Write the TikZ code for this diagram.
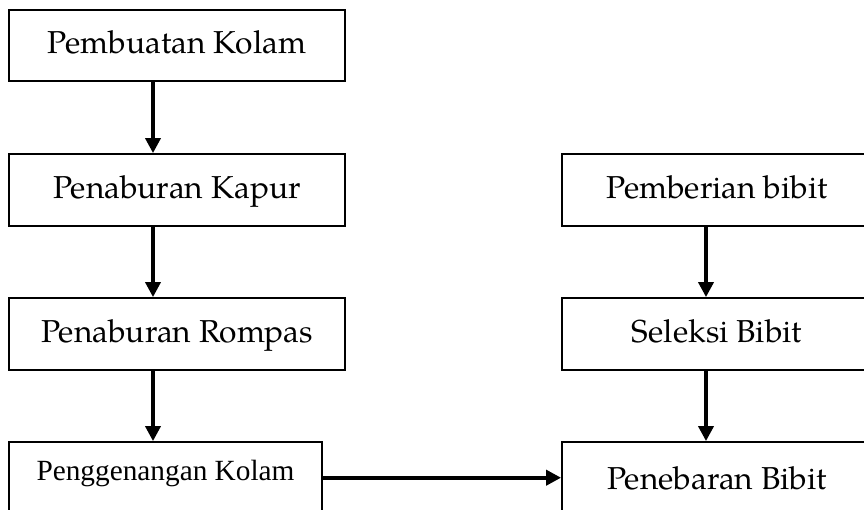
\documentclass[tikz,border=0pt]{standalone}
\usepackage{fontspec}
\setmainfont{TeX Gyre Pagella}
\newfontfamily\timesfam{Liberation Serif}
\usetikzlibrary{arrows.meta,calc}
\newcommand\palfont{\fontsize{31.7}{36}\selectfont}
\newcommand\timfont{\timesfam\fontsize{29.3}{33}\selectfont}
\begin{document}
\begin{tikzpicture}[x=1pt,y=1pt,
  box/.style={draw=black, line width=1.8pt, rectangle, inner sep=0pt,
    text height=24pt, text depth=7pt, font=\palfont},
  flow/.style={line width=3.6pt, -{Triangle[length=15pt,width=15pt]}}]
\useasboundingbox (0,0) rectangle (864,-510);
\begin{scope}
\clip (0,0) rectangle (864,-510);
\node[box, minimum width=336pt, minimum height=71pt] (b1) at (177,-45.5) {Pembuatan Kolam};
\node[box, minimum width=336pt, minimum height=72pt] (b2) at (177,-190) {Penaburan Kapur};
\node[box, minimum width=336pt, minimum height=72pt] (b3) at (177,-334) {Penaburan Rompas};
\node[box, minimum width=313pt, minimum height=78pt, font=\timfont,
  text height=20pt, text depth=22pt] (b4) at (165.5,-481) {Penggenangan Kolam};
\node[box, minimum width=310pt, minimum height=72pt] (r1) at (717,-190) {Pemberian bibit};
\node[box, minimum width=310pt, minimum height=72pt] (r2) at (717,-334) {Seleksi Bibit};
\node[box, minimum width=310pt, minimum height=78pt] (r3) at (717,-481) {Penebaran Bibit};
\end{scope}
\draw[flow] ([xshift=-24pt]b1.south) -- ([xshift=-24pt]b2.north);
\draw[flow] ([xshift=-24pt]b2.south) -- ([xshift=-24pt]b3.north);
\draw[flow] ([xshift=-24pt]b3.south) -- ([xshift=-12.5pt]b4.north);
\draw[flow] ([xshift=-11pt]r1.south) -- ([xshift=-11pt]r2.north);
\draw[flow] ([xshift=-11pt]r2.south) -- ([xshift=-11pt]r3.north);
\draw[flow, line width=4pt] ([yshift=3.3pt]b4.east) -- ([yshift=3.3pt]r3.west);
\end{tikzpicture}
\end{document}
